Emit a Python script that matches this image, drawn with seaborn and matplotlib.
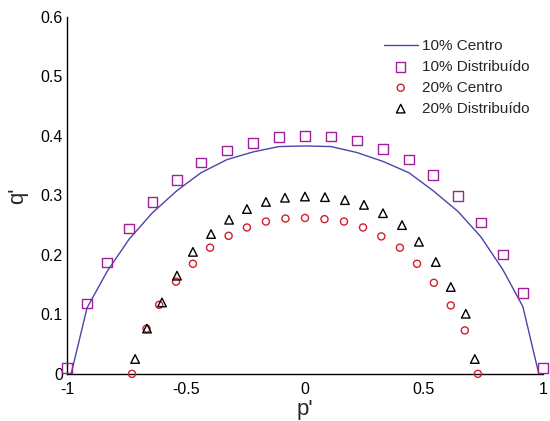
import numpy as np
import pandas as pd
import matplotlib
matplotlib.use("Agg")
import matplotlib.pyplot as plt
import seaborn as sns

# values
centro10_p = [-0.983, -0.916, -0.832, -0.74, -0.643, -0.538, -0.437, -0.328, -0.218, -0.109, 0.0,
              0.109, 0.218, 0.328, 0.437, 0.538, 0.643, 0.74, 0.832, 0.916, 0.983]
centro10_q = [0.0, 0.111, 0.172, 0.226, 0.27, 0.308, 0.338, 0.36, 0.373, 0.382, 0.383,
              0.382, 0.372, 0.357, 0.338, 0.308, 0.273, 0.23, 0.175, 0.113, 0.0]

distr10_p = [-1.0, -0.916, -0.832, -0.74, -0.64, -0.538, -0.437, -0.328, -0.218, -0.109, 0.0,
             0.109, 0.218, 0.328, 0.437, 0.538, 0.643, 0.74, 0.832, 0.916, 1.0]
distr10_q = [0.01, 0.118, 0.187, 0.244, 0.289, 0.326, 0.355, 0.375, 0.388, 0.398, 0.4,
             0.399, 0.392, 0.378, 0.36, 0.334, 0.299, 0.254, 0.201, 0.136, 0.01]

centro20_p = [-0.727, -0.666, -0.613, -0.542, -0.471, -0.399, -0.321, -0.244, -0.164, -0.082, 0.0,
              0.082, 0.164, 0.244, 0.321, 0.399, 0.471, 0.542, 0.613, 0.672, 0.727]
centro20_q = [0.0, 0.076, 0.116, 0.155, 0.185, 0.212, 0.232, 0.246, 0.256, 0.261, 0.262,
              0.26, 0.256, 0.246, 0.231, 0.212, 0.185, 0.153, 0.115, 0.073, 0.0]

distr20_p = [-0.714, -0.664, -0.601, -0.538, -0.471, -0.395, -0.319, -0.244, -0.164, -0.084, 0.0,
             0.084, 0.168, 0.248, 0.328, 0.408, 0.479, 0.55, 0.613, 0.676, 0.714]
distr20_q = [0.025, 0.076, 0.12, 0.165, 0.205, 0.235, 0.259, 0.277, 0.289, 0.296, 0.298,
             0.297, 0.292, 0.284, 0.27, 0.25, 0.222, 0.188, 0.146, 0.101, 0.025]

sns.set_style("white")
plt.rcParams['font.family'] = ['Liberation Sans', 'DejaVu Sans']

fig = plt.figure(figsize=(5.5, 4.21), dpi=100)
ax = fig.add_axes([0.122, 0.112, 0.865, 0.848])

sns.lineplot(x=centro10_p, y=centro10_q, ax=ax, color='#4646ac', lw=1.0,
             sort=False, label='10% Centro')
sns.scatterplot(x=distr10_p, y=distr10_q, ax=ax, marker='s', s=46, fc='none',
                edgecolor='#a0209a', linewidth=1.0, label='10% Distribuído', clip_on=False, zorder=3)
sns.scatterplot(x=centro20_p, y=centro20_q, ax=ax, marker='o', s=26, fc='none',
                edgecolor='#d0202e', linewidth=1.0, label='20% Centro', clip_on=False, zorder=3)
sns.scatterplot(x=distr20_p, y=distr20_q, ax=ax, marker='^', s=38, fc='none',
                edgecolor='black', linewidth=1.0, label='20% Distribuído', clip_on=False, zorder=3)

ax.set_xlim(-1, 1)
ax.set_ylim(0, 0.6)
ax.set_xticks([-1, -0.5, 0, 0.5, 1])
ax.set_xticklabels(['-1', '-0.5', '0', '0.5', '1'])
ax.set_yticks([0, 0.1, 0.2, 0.3, 0.4, 0.5, 0.6])
ax.set_yticklabels(['0', '0.1', '0.2', '0.3', '0.4', '0.5', '0.6'])
ax.tick_params(direction='in', length=4, width=0.8, labelsize=11.5, colors='black')
ax.tick_params(axis='x', pad=6)
ax.tick_params(axis='y', pad=3)
for side in ['top', 'right']:
    ax.spines[side].set_visible(False)
for side in ['left', 'bottom']:
    ax.spines[side].set_color('black')
    ax.spines[side].set_linewidth(1.0)

ax.set_xlabel("p'", fontsize=16, labelpad=1)
ax.set_ylabel("q'", fontsize=16, labelpad=9)

ax.legend(loc='upper right', bbox_to_anchor=(0.985, 0.955), frameon=False, fontsize=11,
          handlelength=2.2, handletextpad=0.3, labelspacing=0.45, borderaxespad=0)

fig.savefig('out.png', dpi=100)
